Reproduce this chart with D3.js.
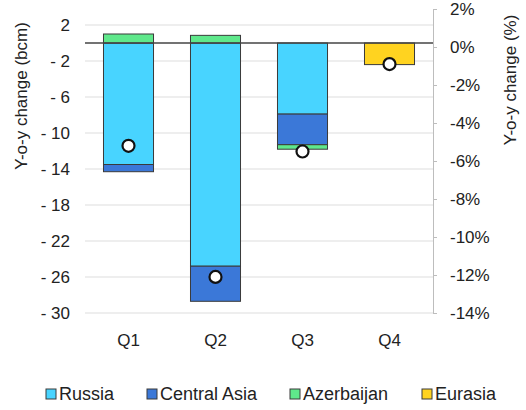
<!DOCTYPE html>
<html><head><meta charset="utf-8">
<script src="https://cdn.jsdelivr.net/npm/d3@7"></script>
<style>body{margin:0;background:#fff}svg{display:block;font-family:"Liberation Sans",Arial,sans-serif}</style>
</head><body><svg id="c" width="526" height="410"></svg>
<script>
const categories = ["Q1","Q2","Q3","Q4"];
const seriesNames = ["Russia","Central Asia","Azerbaijan","Eurasia"];
const russia = [-13.5,-24.8,-7.9,0];
const centralAsia = [-0.8,-3.9,-3.4,0];
const azerbaijan = [1.0,0.85,-0.5,0];
const eurasia = [0,0,0,-2.4];
const yoyPct = [-5.2,-12.1,-5.5,-0.9];
const leftTicks = [2,-2,-6,-10,-14,-18,-22,-26,-30];
const rightTicks = [2,0,-2,-4,-6,-8,-10,-12,-14];
const colors = ["#48d4ff","#3b78d8","#5fe88b","#ffd320"];

const table = categories.map((c,i)=>({cat:c,"Russia":russia[i],"Central Asia":centralAsia[i],"Azerbaijan":azerbaijan[i],"Eurasia":eurasia[i]}));
const svg = d3.select("#c");
const L=85,R=433;
const x = d3.scaleBand().domain(categories).range([L,R]).paddingInner(0.425).paddingOuter(0.2125);
const y = d3.scaleLinear().domain([-30,2]).range([313,25]);
const y2 = d3.scaleLinear().domain([-14,2]).range([313,9]);

// gridlines
svg.append("g").selectAll("line").data(leftTicks).join("line")
  .attr("x1",L).attr("x2",R).attr("y1",d=>y(d)).attr("y2",d=>y(d))
  .attr("stroke","#dedede").attr("stroke-width",1.2);

// left axis labels
const fmt = d=> d<0 ? "- "+Math.abs(d) : String(d);
const la = svg.append("g").attr("transform",`translate(${L},0)`)
  .call(d3.axisLeft(y).tickValues(leftTicks).tickFormat(fmt).tickSize(0).tickPadding(15));
la.select(".domain").remove();
la.selectAll("text").attr("font-size",17).attr("fill","#222").attr("font-family","Liberation Sans, Arial, sans-serif");

// stacked bars
const stack = d3.stack().keys(seriesNames).offset(d3.stackOffsetDiverging);
const layers = stack(table);
svg.append("g").selectAll("g").data(layers).join("g")
  .attr("fill",(d,i)=>colors[i])
  .selectAll("rect").data(d=>d.filter(p=>p[1]!==p[0])).join("rect")
  .attr("x",d=>x(d.data.cat)).attr("width",x.bandwidth())
  .attr("y",d=>y(Math.max(d[0],d[1]))).attr("height",d=>Math.abs(y(d[0])-y(d[1])))
  .attr("stroke","#3a3a3a").attr("stroke-width",1);

// zero line
svg.append("line").attr("x1",L).attr("x2",R).attr("y1",y(0)).attr("y2",y(0))
  .attr("stroke","#444").attr("stroke-width",1.3);

// right axis
const ra = svg.append("g").attr("transform",`translate(${R},0)`)
  .call(d3.axisRight(y2).tickValues(rightTicks).tickFormat(d=>d+"%").tickSize(4).tickSizeOuter(4).tickPadding(13));
ra.select(".domain").attr("stroke","#bdbdbd");
ra.selectAll(".tick line").attr("stroke","#bdbdbd");
ra.selectAll("text").attr("font-size",17).attr("fill","#222").attr("font-family","Liberation Sans, Arial, sans-serif");

// dots
svg.append("g").selectAll("circle").data(yoyPct).join("circle")
  .attr("cx",(d,i)=>x(categories[i])+x.bandwidth()/2).attr("cy",d=>y2(d)).attr("r",6)
  .attr("fill","#fff").attr("stroke","#111").attr("stroke-width",2.2);

// x labels
svg.append("g").selectAll("text").data(categories).join("text")
  .attr("x",d=>x(d)+x.bandwidth()/2).attr("y",346).attr("text-anchor","middle")
  .attr("font-size",17).attr("fill","#222").text(d=>d);

// axis titles
svg.append("text").attr("transform","translate(27,96) rotate(-90)").attr("text-anchor","middle")
  .attr("font-size",17).attr("fill","#222").text("Y-o-y change (bcm)");
svg.append("text").attr("transform","translate(516,80) rotate(-90)").attr("text-anchor","middle")
  .attr("font-size",17).attr("fill","#222").text("Y-o-y change (%)");

// legend
const legX = [46,147,290,422];
const lg = svg.append("g").selectAll("g").data(seriesNames).join("g")
  .attr("transform",(d,i)=>`translate(${legX[i]},394)`);
lg.append("rect").attr("x",0).attr("y",-5).attr("width",10).attr("height",10)
  .attr("fill",(d,i)=>colors[i]).attr("stroke","#3a3a3a").attr("stroke-width",1);
lg.append("text").attr("x",13).attr("y",6).attr("font-size",18).attr("fill","#222").text(d=>d);
</script></body></html>
